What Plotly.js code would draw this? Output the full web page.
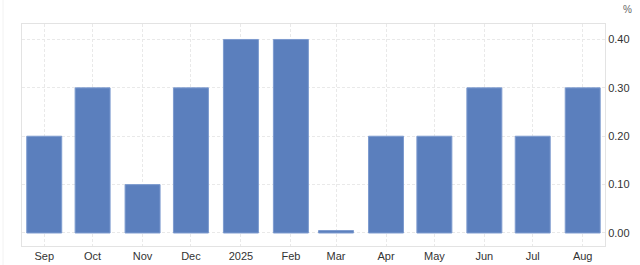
<!DOCTYPE html>
<html>
<head>
<meta charset="utf-8">
<script src="https://cdn.plot.ly/plotly-3.0.1.min.js"></script>
<style>html,body{margin:0;padding:0;background:#fff;}#chart{width:640px;height:265px;}</style>
</head>
<body>
<div id="chart"></div>
<script>
const months = ["2024-09-01","2024-10-01","2024-11-01","2024-12-01","2025-01-01","2025-02-01","2025-03-01","2025-04-01","2025-05-01","2025-06-01","2025-07-01","2025-08-01"];
const values = [0.2, 0.3, 0.1, 0.3, 0.4, 0.4, 0.005, 0.2, 0.2, 0.3, 0.2, 0.3];
const tickLabels = ["Sep","Oct","Nov","Dec","2025","Feb","Mar","Apr","May","Jun","Jul","Aug"];
const yTicks = [0, 0.1, 0.2, 0.3, 0.4];

const DAY = 86400000;
const trace = {
  type: "bar",
  x: months,
  y: values,
  width: months.map(() => 21.7 * DAY),
  marker: {color: "#5b7fbd", line: {color: "#7d9bcf", width: 1}},
  hoverinfo: "x+y"
};
const font = {family: "Liberation Sans, Arial, sans-serif", size: 11, color: "#333"};
const layout = {
  width: 640, height: 265,
  margin: {l: 22, r: 35, t: 24, b: 19},
  paper_bgcolor: "#fff", plot_bgcolor: "#fff",
  showlegend: false,
  font: font,
  bargap: 0,
  xaxis: {
    type: "date",
    range: ["2024-08-18 05:00", "2025-08-14 20:00"],
    tickvals: months, ticktext: tickLabels,
    showgrid: true, gridcolor: "#e9e9e9", griddash: "3px,2px", gridwidth: 1,
    showline: true, linecolor: "#e3e3e3", linewidth: 1, mirror: true,
    ticks: "", tickfont: font, fixedrange: true
  },
  yaxis: {
    side: "right",
    range: [-0.0269, 0.432],
    tickvals: yTicks, tickformat: ".2f",
    showgrid: true, gridcolor: "#e9e9e9", griddash: "3px,2px", gridwidth: 1,
    zeroline: false,
    showline: true, linecolor: "#e3e3e3", linewidth: 1, mirror: true,
    ticks: "", tickfont: font, fixedrange: true
  },
  shapes: [{type: "line", xref: "paper", yref: "paper", x0: -19/583, x1: -19/583, y0: -19/222, y1: 1 + 24/222, line: {color: "#f2f2f2", width: 1}}],
  annotations: [{text: "%", xref: "paper", yref: "paper", x: (627-22)/583, y: 1 + (24-9)/222, showarrow: false, xanchor: "center", yanchor: "middle", font: {family: "Liberation Sans, Arial, sans-serif", size: 10, color: "#666"}}]
};
Plotly.newPlot("chart", [trace], layout, {displayModeBar: false, staticPlot: true});
</script>
</body>
</html>
